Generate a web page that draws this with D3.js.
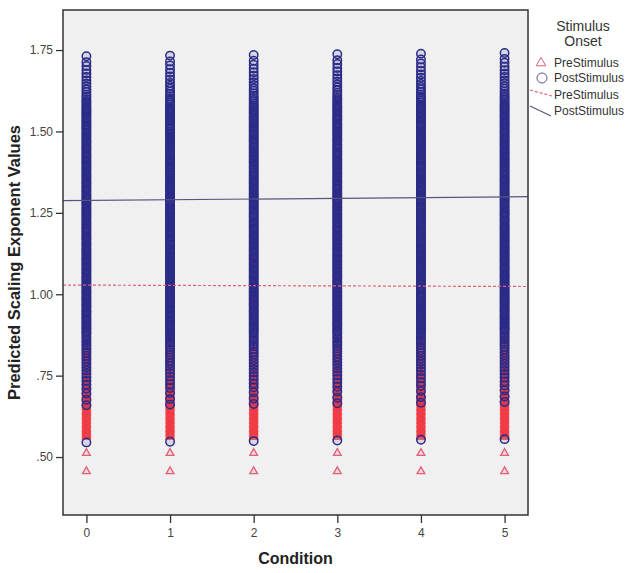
<!DOCTYPE html>
<html>
<head>
<meta charset="utf-8">
<script src="https://cdn.jsdelivr.net/npm/d3@7"></script>
<style>
  body { margin: 0; background: #fff; }
  text { font-family: Arial, "Liberation Sans", sans-serif; }
</style>
</head>
<body>
<div id="chart"></div>
<script>
// conditions on the x axis
let conditions = [0, 1, 2, 3, 4, 5];
let yTicks = [0.5, 0.75, 1.0, 1.25, 1.5, 1.75];
let yTickLabels = ['.50', '.75', '1.00', '1.25', '1.50', '1.75'];

// predicted values, same spread in each condition
let postValues = [1.731, 1.713, 1.701, 1.689, 1.678, 1.667, 1.657, 1.647, 1.638, 1.629, 1.621, 1.613, 1.606, 1.599, 1.593, 1.587, 1.581, 1.575, 1.570, 1.565,
  1.560, 1.555, 1.550, 1.544, 1.539, 1.534, 1.529, 1.523, 1.518, 1.513, 1.508, 1.503, 1.497, 1.492, 1.487, 1.482, 1.476, 1.471, 1.466, 1.461,
  1.455, 1.450, 1.445, 1.440, 1.434, 1.429, 1.424, 1.419, 1.413, 1.408, 1.403, 1.398, 1.392, 1.387, 1.382, 1.377, 1.371, 1.366, 1.361, 1.356,
  1.350, 1.345, 1.340, 1.335, 1.329, 1.324, 1.319, 1.314, 1.308, 1.303, 1.298, 1.293, 1.287, 1.282, 1.277, 1.272, 1.266, 1.261, 1.256, 1.251,
  1.245, 1.240, 1.235, 1.230, 1.224, 1.219, 1.214, 1.209, 1.203, 1.198, 1.193, 1.188, 1.182, 1.177, 1.172, 1.167, 1.161, 1.156, 1.151, 1.146,
  1.140, 1.135, 1.130, 1.125, 1.119, 1.114, 1.109, 1.104, 1.098, 1.093, 1.088, 1.083, 1.077, 1.072, 1.067, 1.062, 1.056, 1.051, 1.046, 1.041,
  1.035, 1.030, 1.025, 1.020, 1.014, 1.009, 1.004, 0.999, 0.993, 0.988, 0.983, 0.978, 0.972, 0.967, 0.962, 0.957, 0.951, 0.946, 0.941, 0.936,
  0.930, 0.925, 0.920, 0.915, 0.909, 0.904, 0.899, 0.894, 0.888, 0.883, 0.878, 0.871, 0.864, 0.857, 0.850, 0.843, 0.836, 0.828, 0.820, 0.812,
  0.803, 0.794, 0.785, 0.776, 0.766, 0.756, 0.745, 0.734, 0.722, 0.710, 0.695, 0.676, 0.659, 0.545];
let preValues = [0.456, 0.512, 0.562, 0.566, 0.570, 0.574, 0.578, 0.582, 0.586, 0.590, 0.594, 0.598, 0.602, 0.606, 0.610, 0.614, 0.618, 0.622,
  0.626, 0.630, 0.634, 0.638, 0.642, 0.646, 0.650, 0.654, 0.658, 0.662, 0.666, 0.670, 0.674, 0.678, 0.682, 0.686, 0.690, 0.694, 0.698,
  0.703, 0.708, 0.713, 0.718, 0.724, 0.730, 0.736, 0.743, 0.750, 0.757, 0.765, 0.773, 0.781, 0.790, 0.799, 0.808, 0.818, 0.828, 0.839,
  0.850, 0.862, 0.875, 0.889, 0.904, 0.920, 0.937, 0.955, 0.974, 0.994, 1.015, 1.038, 1.062, 1.088, 1.115, 1.145, 1.178, 1.214, 1.255,
  1.300, 1.352, 1.412, 1.480];
// small upward drift of the post values per condition
let postShift = [0, 0.002, 0.004, 0.006, 0.008, 0.010];

// fit lines: value at condition 0 and at condition 5
let postFit = [1.288, 1.299];
let preFit = [1.028, 1.024];

let config = { svg: {}, plot: {} };
config.svg.width = 638;
config.svg.height = 573;
config.plot.x = 63;
config.plot.y = 10;
config.plot.width = 465;
config.plot.height = 505;

let colors = { post: '#2b2b88', pre: '#f03c46', postLine: '#55557e', preLine: '#e0607a' };

function translate(x, y) {
  return 'translate(' + x + ',' + y + ')';
}

let svg = d3.select('#chart').append('svg')
  .attr('width', config.svg.width)
  .attr('height', config.svg.height);

let x = d3.scaleLinear().domain([-0.28, 5.28]).range([0, config.plot.width]);
let y = d3.scaleLinear().domain([0.322, 1.873]).range([config.plot.height, 0]);

let plot = svg.append('g').attr('transform', translate(config.plot.x, config.plot.y));

plot.append('rect')
  .attr('width', config.plot.width)
  .attr('height', config.plot.height)
  .attr('fill', '#f0f0f0');

plot.append('clipPath').attr('id', 'clip')
  .append('rect').attr('width', config.plot.width).attr('height', config.plot.height);

let marks = plot.append('g').attr('clip-path', 'url(#clip)');

// pre stimulus triangles under the circles
let tri = d3.symbol().type(d3.symbolTriangle).size(26);
conditions.forEach(function (c) {
  marks.append('g').selectAll('path')
    .data(preValues).enter()
    .append('path')
    .attr('d', tri)
    .attr('transform', function (v) { return translate(x(c), y(v)); })
    .attr('fill', colors.pre)
    .attr('fill-opacity', 0.12)
    .attr('stroke', function (v) { return v < 0.55 ? colors.preLine : colors.pre; })
    .attr('stroke-width', 1.3);
});

conditions.forEach(function (c, i) {
  marks.append('g').selectAll('circle')
    .data(postValues).enter()
    .append('circle')
    .attr('cx', x(c))
    .attr('cy', function (v) { return y(v + postShift[i]); })
    .attr('r', 4.2)
    .attr('fill', colors.post)
    .attr('fill-opacity', 0.12)
    .attr('stroke', colors.post)
    .attr('stroke-width', 1.5);
});

// fit lines, extended across the frame
function fitAt(fit, c) {
  return fit[0] + (fit[1] - fit[0]) * c / 5;
}
let xd = x.domain();
let line = d3.line().x(function (d) { return x(d[0]); }).y(function (d) { return y(d[1]); });
marks.append('path')
  .attr('d', line([[xd[0], fitAt(preFit, xd[0])], [xd[1], fitAt(preFit, xd[1])]]))
  .attr('stroke', colors.preLine)
  .attr('stroke-width', 1.2)
  .attr('stroke-dasharray', '3,2')
  .attr('fill', 'none');
marks.append('path')
  .attr('d', line([[xd[0], fitAt(postFit, xd[0])], [xd[1], fitAt(postFit, xd[1])]]))
  .attr('stroke', colors.postLine)
  .attr('stroke-width', 1.2)
  .attr('fill', 'none');

plot.append('rect')
  .attr('width', config.plot.width)
  .attr('height', config.plot.height)
  .attr('fill', 'none')
  .attr('stroke', '#333')
  .attr('stroke-width', 1.5);

// axes
let yAxis = plot.append('g')
  .call(d3.axisLeft(y).tickValues(yTicks).tickSize(7).tickPadding(3)
    .tickFormat(function (d, i) { return yTickLabels[i]; }));
let xAxis = plot.append('g')
  .attr('transform', translate(0, config.plot.height))
  .call(d3.axisBottom(x).tickValues(conditions).tickSize(8).tickPadding(5).tickFormat(d3.format('d')));
[xAxis, yAxis].forEach(function (a) {
  a.select('.domain').remove();
  a.selectAll('line').attr('stroke', '#333').attr('stroke-width', 1.3);
  a.selectAll('text').attr('font-size', 12).attr('fill', '#444')
    .attr('font-family', 'Arial, "Liberation Sans", sans-serif');
});

// axis titles
svg.append('text')
  .attr('x', config.plot.x + x(2.5))
  .attr('y', 564)
  .attr('text-anchor', 'middle')
  .attr('font-size', 16)
  .attr('font-weight', 'bold')
  .attr('fill', '#222')
  .text('Condition');
svg.append('text')
  .attr('transform', 'translate(20,' + (config.plot.y + config.plot.height / 2) + ') rotate(-90)')
  .attr('text-anchor', 'middle')
  .attr('font-size', 16.5)
  .attr('font-weight', 'bold')
  .attr('fill', '#222')
  .text('Predicted Scaling Exponent Values');

// legend
let legend = svg.append('g');
legend.append('text').attr('x', 583).attr('y', 31).attr('text-anchor', 'middle')
  .attr('font-size', 14).attr('fill', '#333').text('Stimulus');
legend.append('text').attr('x', 583).attr('y', 46).attr('text-anchor', 'middle')
  .attr('font-size', 14).attr('fill', '#333').text('Onset');
legend.append('path')
  .attr('d', d3.symbol().type(d3.symbolTriangle).size(40))
  .attr('transform', translate(541, 63))
  .attr('fill', 'none').attr('stroke', colors.preLine).attr('stroke-width', 1);
legend.append('circle').attr('cx', 542).attr('cy', 78).attr('r', 5)
  .attr('fill', 'none').attr('stroke', '#5a5a90').attr('stroke-width', 1);
legend.append('line').attr('x1', 530).attr('y1', 90).attr('x2', 552).attr('y2', 96)
  .attr('stroke', colors.preLine).attr('stroke-width', 1.2).attr('stroke-dasharray', '3,2');
legend.append('line').attr('x1', 530).attr('y1', 106).attr('x2', 551).attr('y2', 116)
  .attr('stroke', colors.postLine).attr('stroke-width', 1.2);
let legendLabels = ['PreStimulus', 'PostStimulus', 'PreStimulus', 'PostStimulus'];
let legendY = [67, 82, 99, 115];
legend.selectAll('.lab').data(legendLabels).enter()
  .append('text')
  .attr('class', 'lab')
  .attr('x', 554)
  .attr('y', function (d, i) { return legendY[i]; })
  .attr('font-size', 12)
  .attr('fill', '#333')
  .text(function (d) { return d; });
</script>
</body>
</html>
